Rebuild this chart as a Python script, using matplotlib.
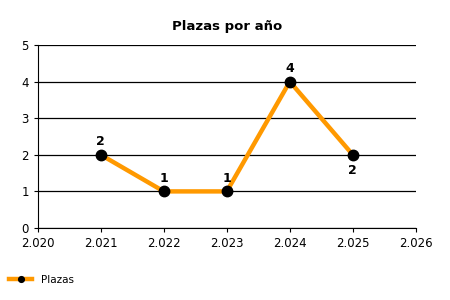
import matplotlib
matplotlib.use("Agg")
import matplotlib.pyplot as plt
from matplotlib.ticker import FuncFormatter

years = [2021, 2022, 2023, 2024, 2025]
plazas = [2, 1, 1, 4, 2]
label_pos = ['above', 'above', 'above', 'above', 'below']

fig = plt.figure(figsize=(4.5, 3), dpi=100)
ax = fig.add_axes([0.084, 0.24, 0.84, 0.61])

ax.plot(years, plazas, color='#FF9900', linewidth=3.2, marker='o',
        markersize=7.5, markerfacecolor='black', markeredgecolor='black',
        label='Plazas', zorder=3)

for x, y, pos in zip(years, plazas, label_pos):
    off = 9.5 if pos == 'above' else -11
    ax.annotate(str(y), (x, y), xytext=(0, off), textcoords='offset points',
                ha='center', va='center', fontsize=9, fontweight='bold')

ax.set_xlim(2020, 2026)
ax.set_ylim(0, 5)
ax.set_xticks(range(2020, 2027))
ax.set_yticks(range(0, 6))
ax.xaxis.set_major_formatter(FuncFormatter(lambda v, p: '{:,.0f}'.format(v).replace(',', '.')))
ax.grid(True, axis='y', color='black', linewidth=0.9)
ax.set_axisbelow(True)
for s in ['top', 'right']:
    ax.spines[s].set_visible(False)
ax.tick_params(labelsize=8.5, length=3, colors='black')

ax.set_title('Plazas por año', fontsize=9.5, fontweight='bold', pad=11)

fig.legend(loc='lower left', bbox_to_anchor=(0.0, 0.02), frameon=False,
           fontsize=7.5, handlelength=2.2, markerscale=0.55)

fig.savefig('out.png', dpi=100)
